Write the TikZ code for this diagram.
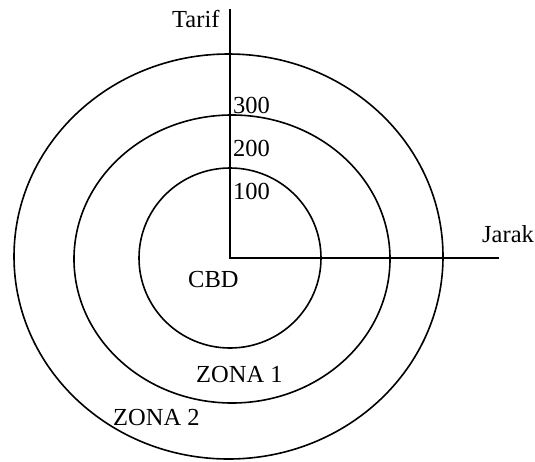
\documentclass[tikz,border=0pt]{standalone}
\usepackage{fontspec}
\setmainfont{Liberation Serif}
\begin{document}
\begin{tikzpicture}[x=1pt,y=-1pt,
  ring/.style={draw=black,line width=1.6pt},
  axis/.style={draw=black,line width=1.6pt},
  lbl/.style={inner sep=0pt,anchor=base west,font=\fontsize{24.5}{29}\selectfont}]
\useasboundingbox (0,0) rectangle (535,461);
% zone boundaries around the city centre
\draw[ring] (230,258) ellipse [x radius=91,y radius=90];
\draw[ring] (232,259) ellipse [x radius=158,y radius=144];
\draw[ring] (228.5,256.5) ellipse [x radius=214.5,y radius=202.5];
% axes
\coordinate (O) at (230,258);
\coordinate (ytop) at (230,9);
\coordinate (xend) at (499,258);
\draw[axis] (ytop) -- (O) -- (xend);
% labels
\node[lbl] (tarif) at (172,27) {Tarif};
\node[lbl] (jarak) at (482,242) {Jarak};
\node[lbl] (t300) at (233,113) {300};
\node[lbl] (t200) at (233,156) {200};
\node[lbl] (t100) at (233,199) {100};
\node[lbl] (cbd) at (188,287) {CBD};
\node[lbl] (z1) at (196,382) {ZONA 1};
\node[lbl] (z2) at (113,425) {ZONA 2};
\end{tikzpicture}
\end{document}
